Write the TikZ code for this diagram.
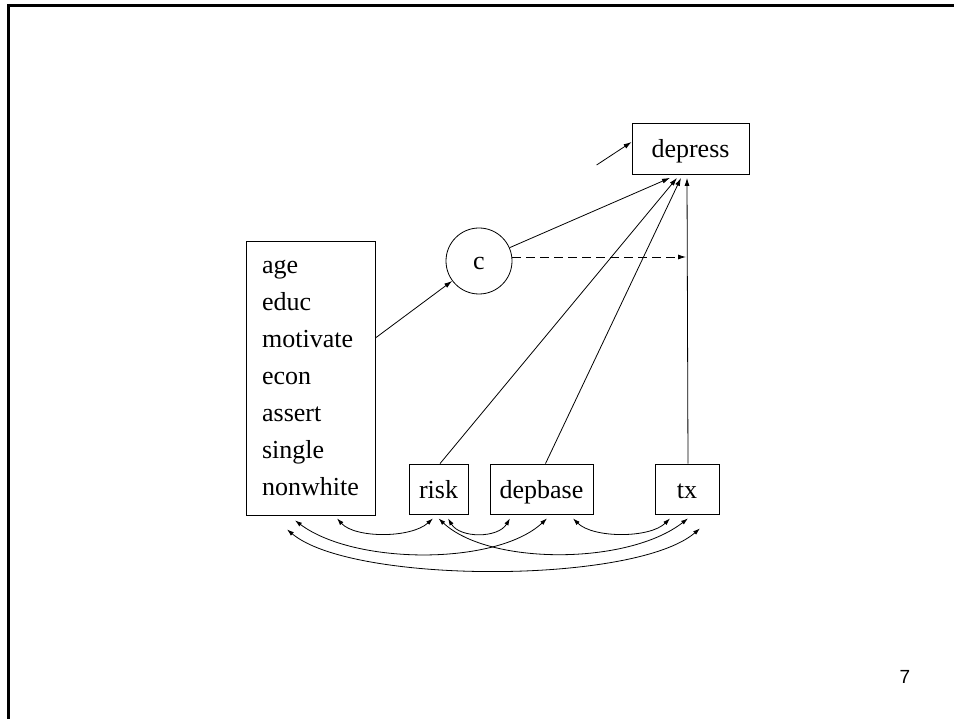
\documentclass[tikz,border=0pt]{standalone}
\usepackage{fontspec}
\setmainfont{Liberation Serif}
\newfontfamily\numfont{Liberation Sans}
\usetikzlibrary{arrows.meta,calc}
\begin{document}
\begin{tikzpicture}[x=1pt,y=-1pt,
  lbl/.style={font=\fontsize{26}{37}\selectfont},
  var/.style={draw,line width=0.8pt,lbl,inner sep=0pt},
  one/.style={text height=24pt,text depth=6pt},
  conn/.style={line width=0.8pt,-{Latex[length=8pt,width=5pt]}},
  cov/.style={line width=0.8pt,{Latex[length=7pt,width=4.5pt]}-{Latex[length=7pt,width=4.5pt]}}]
\useasboundingbox (0,0) rectangle (954,719);
% frame
\draw[line width=3pt] (7,5.5) -- (954,5.5);
\draw[line width=3pt] (8,4) -- (8,719);
% nodes
\node[var,one,minimum width=117pt,minimum height=51pt] (dep) at (690.5,148.5) {depress};
\node[var,minimum width=129pt,minimum height=274pt,align=left] (big) at (310.5,378)
  {age\\educ\\motivate\\econ\\assert\\single\\nonwhite};
\node[var,one,circle,minimum size=66pt] (c) at (479,261) {c};
\node[var,one,minimum width=59pt,minimum height=50pt] (risk) at (438.5,489) {risk};
\node[var,one,minimum width=103pt,minimum height=50pt] (depb) at (541.5,489) {depbase};
\node[var,one,minimum width=64pt,minimum height=50pt] (tx) at (687,489) {tx};
\node[font=\numfont\fontsize{19}{22}\selectfont] (pg) at (905,677) {7};
% coordinates
\coordinate (err) at ($(dep.west)+(-35,16.5)$);
\coordinate (errend) at ($(dep.west)+(0,-6.5)$);
\coordinate (bigout) at ($(big.east)+(0,-40)$);
\coordinate (t1) at ($(dep.south)+(-20.5,3.5)$);
\coordinate (t2) at ($(dep.south)+(-13.5,3.5)$);
\coordinate (t3) at ($(dep.south)+(-9.5,3.5)$);
\coordinate (t4) at ($(dep.south)+(-3.5,3.5)$);
\coordinate (rs) at ($(risk.north)+(1.5,0)$);
\coordinate (ds) at ($(depb.north)+(4,0)$);
\coordinate (ts) at ($(tx.north)+(1,0)$);
\coordinate (cs) at ($(c.east)+(0,-4)$);
\coordinate (dtip) at ($(tx.north|-c.east)+(-1,-4)$);
% paths
\draw[conn] (err) -- (errend);
\draw[conn] (bigout) -- (c);
\draw[conn] (c) -- (t1);
\draw[conn] (rs) -- (t2);
\draw[conn] (ds) -- (t3);
\draw[conn] (ts) -- (t4);
\draw[conn,dashed,dash pattern=on 9pt off 5pt] (cs) -- (dtip);
% covariance endpoints
\coordinate (b1) at ($(big.south)+(26.5,3)$);
\coordinate (b4) at ($(big.south)+(-15.5,5)$);
\coordinate (b6) at ($(big.south)+(-23.5,14)$);
\coordinate (r1) at ($(risk.south)+(-5.5,4)$);
\coordinate (r2) at ($(risk.south)+(9.5,4)$);
\coordinate (r5) at ($(risk.south)+(0,4)$);
\coordinate (d2) at ($(depb.south)+(-31.5,4)$);
\coordinate (d4) at ($(depb.south)+(5.5,4)$);
\coordinate (d3) at ($(depb.south)+(31.5,4)$);
\coordinate (x3) at ($(tx.south)+(-17,4)$);
\coordinate (x5) at ($(tx.south)+(1,4)$);
\coordinate (x6) at ($(tx.south)+(13,14)$);
\draw[cov] (b1) .. controls +(18,20) and +(-22,20) .. (r1);
\draw[cov] (r2) .. controls +(12,20) and +(-12,20) .. (d2);
\draw[cov] (d3) .. controls +(20,20) and +(-20,20) .. (x3);
\draw[cov] (b4) .. controls +(60,45) and +(-50,47) .. (d4);
\draw[cov] (r5) .. controls +(50,47) and +(-60,47) .. (x5);
\draw[cov] (b6) .. controls +(65,55) and +(-65,56) .. (x6);
\end{tikzpicture}
\end{document}
